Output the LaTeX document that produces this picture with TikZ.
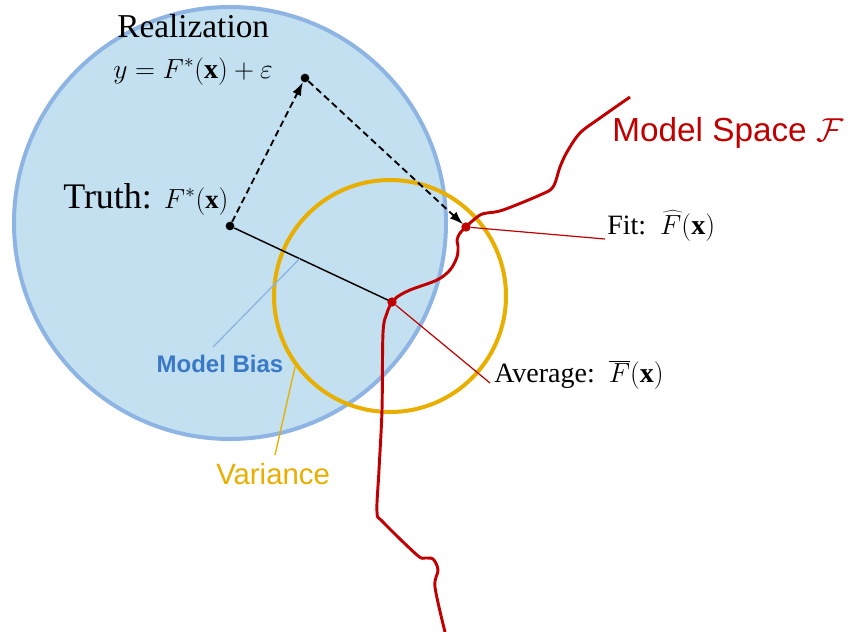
\documentclass[tikz,border=0pt]{standalone}
\usepackage{fontspec}
\setmainfont{Liberation Serif}
\setsansfont{Liberation Sans}
\usetikzlibrary{arrows.meta,calc}
\definecolor{bfill}{HTML}{C2E0EF}
\definecolor{bring}{HTML}{8EB4E3}
\definecolor{orng}{HTML}{E8AE00}
\definecolor{rd}{HTML}{C00000}
\definecolor{btext}{HTML}{3A78C8}
\tikzset{
  dot/.style={circle,fill=black,inner sep=0pt,minimum size=6.5pt},
  rdot/.style={circle,fill=rd,inner sep=0pt,minimum size=7pt},
  dasharrow/.style={draw,black,line width=1.4pt,dash pattern=on 5pt off 3pt,-{Latex[length=10pt,width=7pt]}},
  redlead/.style={draw,rd,line width=0.9pt},
  lbl/.style={inner sep=0pt,anchor=base west},
}
\begin{document}
\begin{tikzpicture}[x=0.75pt,y=-0.75pt]
\useasboundingbox (0,0) rectangle (851,632);
% circles
\node[circle,draw=bring,fill=bfill,line width=3pt,minimum size=432*0.75pt,inner sep=0pt] (bias) at (230,223) {};
\node[circle,draw=orng,line width=3pt,minimum size=232*0.75pt,inner sep=0pt] (var) at (390,296) {};
% points
\node[dot] (truth) at (230,226) {};
\node[dot] (real) at (305,78) {};
\coordinate (avgc) at (392,302);
\coordinate (fitc) at (466,227);
% lines
\draw[black,line width=1.1pt] (truth) -- (avgc);
\draw[dasharrow] (truth) -- (real);
\draw[dasharrow,shorten >=3pt] (real) -- (fitc);
% model space curve
\draw[rd,line width=2.2pt,line join=round] plot[smooth,tension=0.55] coordinates {
 (630,97) (600,118) (580,133) (567,152) (560,167) (553,187) (540,195) (503,210) (487,213) (480,215) (470,223) (466,227)
 (460,233) (457,240) (458,246) (457,257) (450,270) (437,280) (410,290) (397,297) (392,302) (387,313) (383,333)
 (382,410) (379,470) (377,512) (383,522) (417,555) (425,558) (433,559) (438,570) (435,587) (445,632)};
\node[rdot] (avg) at (avgc) {};
\node[rdot] (fit) at (fitc) {};
% labels
\node[lbl,font=\fontsize{25}{30}\selectfont] (lreal) at (117,37) {Realization};
\node[lbl,font=\fontsize{21}{25}\selectfont] (leq) at (113,78) {$y = F^*(\mathbf{x}) + \varepsilon$};
\node[lbl,font=\fontsize{27}{32}\selectfont] (ltruth) at (63,208) {Truth: {\fontsize{20}{24}\selectfont$F^*(\mathbf{x})$}};
\node[lbl,font=\fontsize{21}{25}\selectfont] (lfit) at (607,234) {Fit:\ \ $\widehat{F}(\mathbf{x})$};
\node[lbl,font=\fontsize{21}{25}\selectfont] (lavg) at (494,382) {Average:\ \ $\overline{F}(\mathbf{x})$};
\node[lbl,font=\sffamily\fontsize{25}{30}\selectfont,text=rd] (lms) at (612,141) {Model Space $\mathcal{F}$};
\node[inner sep=0pt,anchor=base,font=\sffamily\bfseries\fontsize{18}{22}\selectfont,text=btext] (lbias) at (220,372) {Model Bias};
\node[lbl,font=\sffamily\fontsize{22}{26}\selectfont,text=orng] (lvar) at (216,484) {Variance};
% leader lines
\coordinate (fitend) at (605,239);
\coordinate (avgend) at (490,383);
\draw[redlead] (fit) -- (fitend);
\draw[redlead] (avg) -- (avgend);
\coordinate (biasend) at (213,347);
\draw[bring,line width=1pt] ($(truth)!0.43!(avgc)$) -- (biasend);
\coordinate (varend) at (275,455);
\coordinate (varstart) at (295,367);
\draw[orng,line width=1pt] (varstart) -- (varend);
\end{tikzpicture}
\end{document}
